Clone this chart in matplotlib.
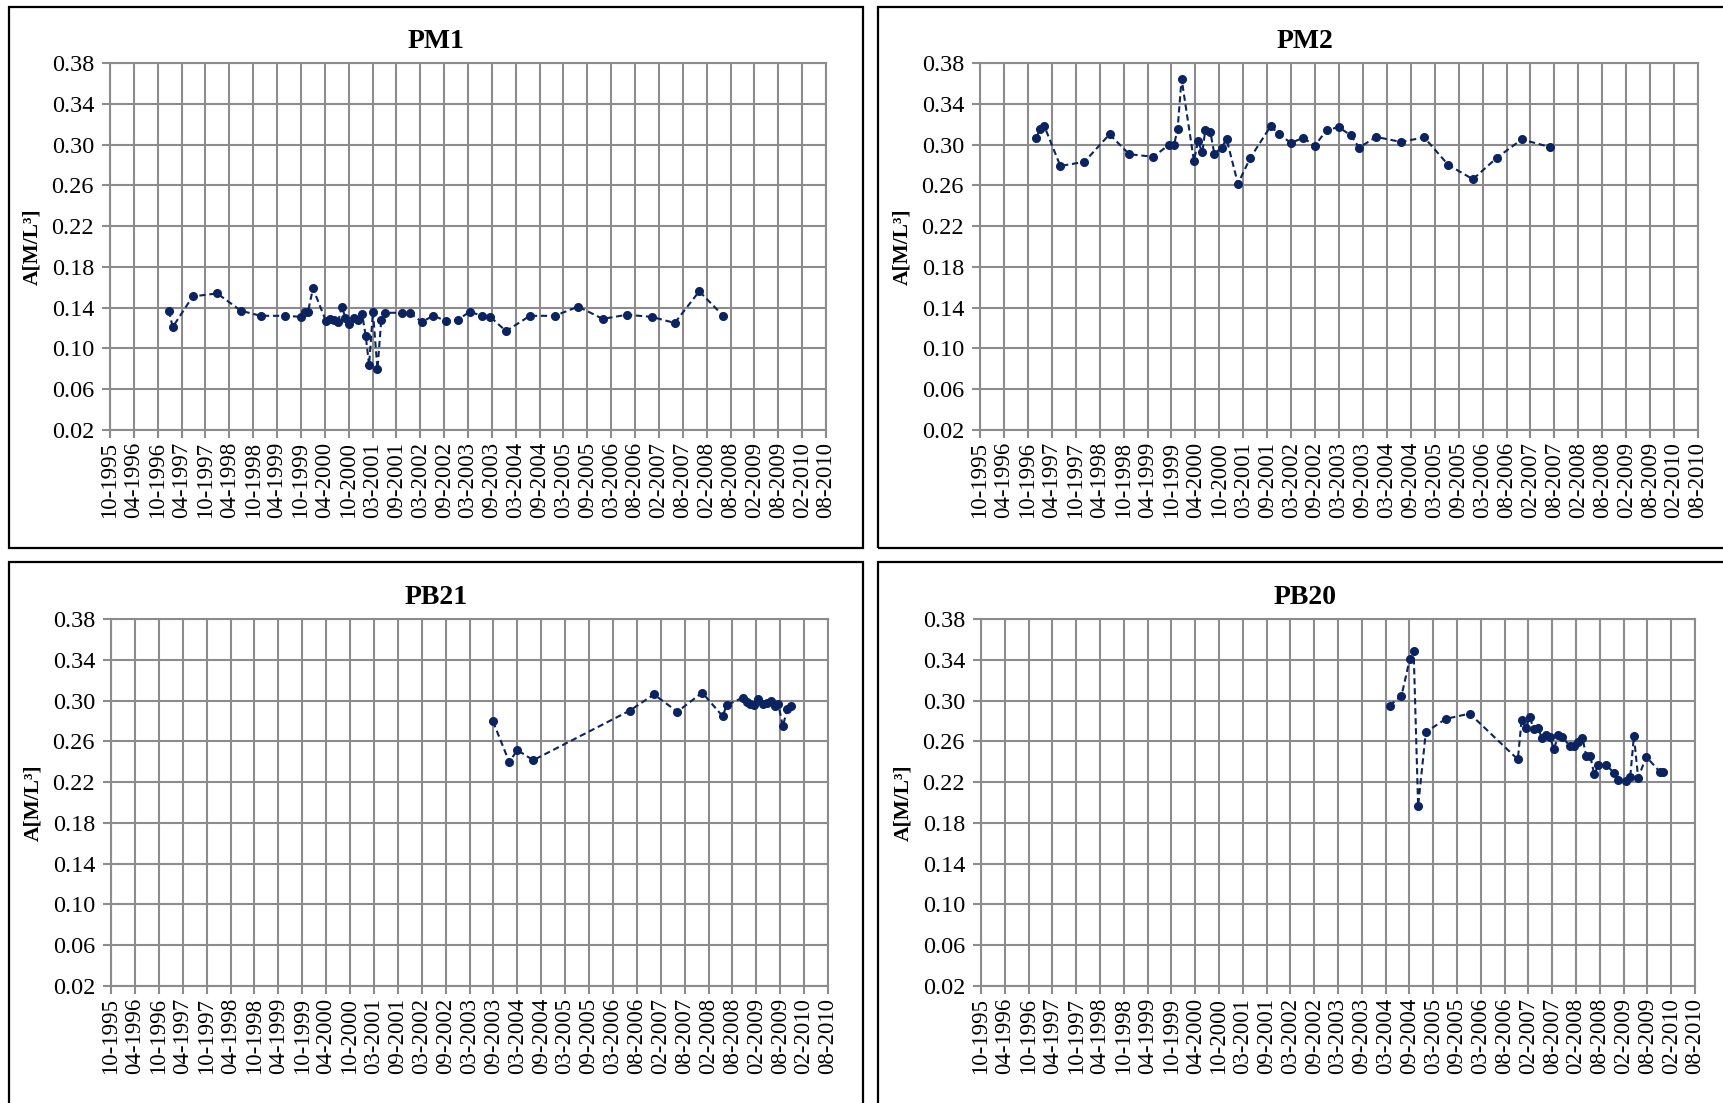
import matplotlib
matplotlib.use("Agg")
import matplotlib.pyplot as plt
from matplotlib.patches import Rectangle
import pandas as pd

# ---------------- data ----------------
tick_labels = ["10-1995", "04-1996", "10-1996", "04-1997", "10-1997", "04-1998",
               "10-1998", "04-1999", "10-1999", "04-2000", "10-2000", "03-2001",
               "09-2001", "03-2002", "09-2002", "03-2003", "09-2003", "03-2004",
               "09-2004", "03-2005", "09-2005", "03-2006", "08-2006", "02-2007",
               "08-2007", "02-2008", "08-2008", "02-2009", "08-2009", "02-2010",
               "08-2010"]
axis_start = "1995-10-28"
tick_step_days = 180
y_ticks = [0.02, 0.06, 0.10, 0.14, 0.18, 0.22, 0.26, 0.30, 0.34, 0.38]

pm1_dates = ["1997-01-14", "1997-02-12", "1997-07-13", "1998-01-13", "1998-07-11",
             "1998-12-08", "1999-06-08", "1999-10-09", "1999-11-04", "1999-11-29",
             "2000-01-06", "2000-04-12", "2000-05-11", "2000-06-15", "2000-07-13",
             "2000-08-11", "2000-09-06", "2000-10-04", "2000-11-07", "2000-12-12",
             "2001-01-10", "2001-02-07", "2001-03-04", "2001-04-02", "2001-05-06",
             "2001-06-04", "2001-07-03", "2001-11-05", "2002-01-04", "2002-04-05",
             "2002-07-02", "2002-10-06", "2003-01-02", "2003-04-01", "2003-07-05",
             "2003-09-03", "2004-01-01", "2004-06-29", "2005-01-01", "2005-06-29",
             "2005-12-30", "2006-06-28", "2007-01-03", "2007-06-26", "2007-12-28",
             "2008-06-26"]
pm1_values = [0.137, 0.121, 0.151, 0.154, 0.137, 0.132, 0.132, 0.131, 0.136, 0.136,
              0.159, 0.127, 0.129, 0.128, 0.126, 0.141, 0.130, 0.124, 0.130, 0.128,
              0.134, 0.112, 0.0835, 0.136, 0.0797, 0.128, 0.135, 0.135, 0.135, 0.126,
              0.132, 0.127, 0.128, 0.136, 0.132, 0.131, 0.117, 0.132, 0.132, 0.141,
              0.129, 0.133, 0.131, 0.125, 0.156, 0.132]

pm2_dates = ["1996-12-23", "1997-01-20", "1997-02-23", "1997-06-23", "1997-12-21",
             "1998-06-28", "1998-11-24", "1999-05-24", "1999-09-20", "1999-10-26",
             "1999-11-22", "1999-12-22", "2000-03-24", "2000-04-23", "2000-05-26",
             "2000-06-17", "2000-07-26", "2000-08-24", "2000-10-19", "2000-11-24",
             "2001-02-18", "2001-05-22", "2001-10-22", "2001-12-26", "2002-03-23",
             "2002-06-24", "2002-09-18", "2002-12-18", "2003-03-19", "2003-06-17",
             "2003-08-19", "2003-12-24", "2004-06-26", "2004-12-20", "2005-06-19",
             "2005-12-21", "2006-06-19", "2006-12-23", "2007-07-21"]
pm2_values = [0.306, 0.315, 0.318, 0.279, 0.283, 0.310, 0.2905, 0.288, 0.300, 0.2995,
              0.315, 0.3646, 0.284, 0.303, 0.2925, 0.314, 0.312, 0.291, 0.297, 0.3056,
              0.2616, 0.287, 0.318, 0.310, 0.3016, 0.3066, 0.2987, 0.3144, 0.317, 0.309,
              0.297, 0.3075, 0.3026, 0.307, 0.280, 0.266, 0.287, 0.305, 0.2977]

pb21_dates = ["2003-09-13", "2004-01-14", "2004-03-13", "2004-07-12", "2006-07-10",
              "2007-01-07", "2007-07-03", "2008-01-05", "2008-06-08", "2008-07-07",
              "2008-11-05", "2008-12-05", "2008-12-30", "2009-02-01", "2009-03-04",
              "2009-04-05", "2009-05-06", "2009-06-04", "2009-07-08", "2009-07-31",
              "2009-09-04", "2009-10-06", "2009-11-07"]
pb21_values = [0.2795, 0.2395, 0.2515, 0.2415, 0.2902, 0.306, 0.289, 0.3078, 0.2846,
               0.2954, 0.3029, 0.299, 0.2967, 0.2957, 0.302, 0.2967, 0.298, 0.2997,
               0.295, 0.297, 0.2746, 0.2915, 0.295]

pb20_dates = ["2004-04-13", "2004-07-12", "2004-09-13", "2004-10-12", "2004-11-15",
              "2005-01-12", "2005-06-12", "2005-12-10", "2006-12-09", "2007-01-07",
              "2007-02-06", "2007-03-08", "2007-04-08", "2007-05-07", "2007-06-10",
              "2007-07-09", "2007-08-08", "2007-09-08", "2007-10-11", "2007-11-10",
              "2008-01-07", "2008-02-08", "2008-03-10", "2008-04-10", "2008-05-09",
              "2008-06-08", "2008-07-09", "2008-08-08", "2008-10-09", "2008-12-07",
              "2009-01-08", "2009-03-08", "2009-04-07", "2009-05-05", "2009-06-06",
              "2009-08-07", "2009-11-16", "2009-12-09"]
pb20_values = [0.295, 0.3046, 0.3407, 0.349, 0.1964, 0.269, 0.282, 0.2872, 0.2423,
               0.2813, 0.2727, 0.2839, 0.2724, 0.2734, 0.2636, 0.2666, 0.2646, 0.2524,
               0.266, 0.2646, 0.255, 0.255, 0.259, 0.2636, 0.246, 0.246, 0.2275,
               0.2367, 0.2367, 0.2288, 0.222, 0.221, 0.225, 0.2652, 0.2243, 0.2449,
               0.2302, 0.2302]

titles = ["PM1", "PM2", "PB21", "PB20"]
y_label = "A[M/L³]"

# ---------------- layout (pixels) ----------------
W, H = 1724, 1103
frames = [(9, 7, 863, 548), (878, 7, 1740, 548), (9, 562, 863, 1110), (878, 562, 1740, 1110)]
plots = [(110, 63, 826, 430), (980, 63, 1698, 430), (111, 619, 828, 986), (981, 619, 1695, 986)]

SERIF = ["Liberation Serif", "DejaVu Serif"]
LINE_COLOR = "#0b2360"
GRID_COLOR = "#8c8c8c"

fig = plt.figure(figsize=(W / 100, H / 100), dpi=100)
fig.patch.set_facecolor("white")

tick_pos = pd.date_range(axis_start, periods=len(tick_labels), freq=f"{tick_step_days}D")
series = [(pm1_dates, pm1_values), (pm2_dates, pm2_values),
          (pb21_dates, pb21_values), (pb20_dates, pb20_values)]

for title, (dates, vals), fr, pl in zip(titles, series, frames, plots):
    fx0, fy0, fx1, fy1 = fr
    fig.patches.append(Rectangle((fx0 / W, 1 - fy1 / H), (fx1 - fx0) / W, (fy1 - fy0) / H,
                                 transform=fig.transFigure, fill=False,
                                 edgecolor="black", linewidth=1.6, clip_on=False))
    x0, y0, x1, y1 = pl
    ax = fig.add_axes([x0 / W, 1 - y1 / H, (x1 - x0) / W, (y1 - y0) / H])
    d = pd.to_datetime(dates)
    ax.plot(d, vals, linestyle=(0, (3.0, 1.8)), color=LINE_COLOR, linewidth=1.5,
            marker="o", markersize=5.5, markerfacecolor=LINE_COLOR,
            markeredgecolor=LINE_COLOR, zorder=3)
    ax.set_xlim(tick_pos[0], tick_pos[-1])
    ax.set_ylim(y_ticks[0], y_ticks[-1])
    ax.set_xticks(tick_pos)
    ax.set_xticklabels(tick_labels, rotation=90, fontfamily=SERIF, fontsize=16.5)
    ax.set_yticks(y_ticks)
    ax.set_yticklabels([f"{v:.2f}" for v in y_ticks], fontfamily=SERIF, fontsize=17.5)
    ax.grid(True, color=GRID_COLOR, linewidth=1.5)
    ax.set_axisbelow(True)
    for s in ax.spines.values():
        s.set_color(GRID_COLOR)
        s.set_linewidth(1.5)
    ax.tick_params(axis="both", direction="out", length=5.5, width=1.5,
                   color=GRID_COLOR, labelcolor="black")
    ax.tick_params(axis="y", pad=6)
    ax.tick_params(axis="x", pad=3)
    cx = ((fx0 + fx1) / 2 if fx1 < W else (fx0 + 1732) / 2)
    fig.text(cx / W, 1 - (fy0 + 35) / H,
             title, ha="center", va="center", fontfamily=SERIF,
             fontweight="bold", fontsize=20)
    fig.text((x0 - 78) / W, 1 - ((y0 + y1) / 2) / H, y_label, rotation=90,
             ha="center", va="center", fontfamily=SERIF, fontweight="bold", fontsize=15.5)

fig.savefig("out.png", dpi=100, facecolor="white")
